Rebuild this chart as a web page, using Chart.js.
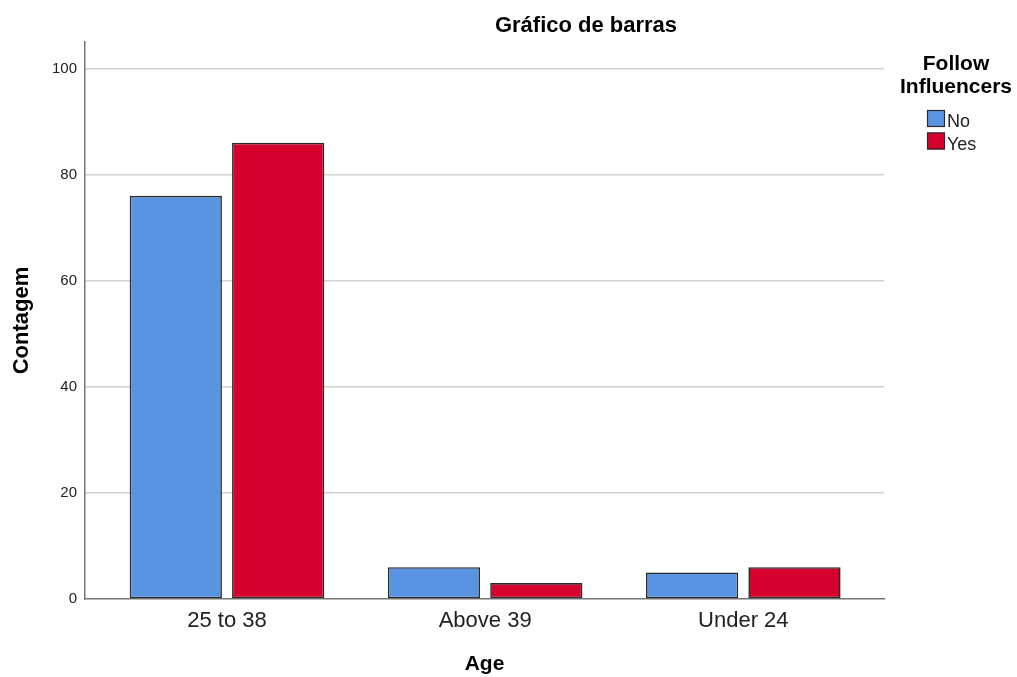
<!DOCTYPE html>
<html><head><meta charset="utf-8">
<script src="https://cdn.jsdelivr.net/npm/chart.js@4/dist/chart.umd.min.js"></script>
<style>html,body{margin:0;padding:0;background:#fff;overflow:hidden;} #wrap{width:1017px;height:677px;position:relative;}</style>
</head><body><div id="wrap"><canvas id="c" width="1017" height="677"></canvas></div>
<script>
const categories = ['25 to 38', 'Above 39', 'Under 24'];
const seriesNames = ['No', 'Yes'];
const noValues = [76, 6, 5];
const yesValues = [86, 3, 6];
const yTicks = [0, 20, 40, 60, 80, 100];
const chartTitle = 'Gráfico de barras';
const legendTitle = ['Follow', 'Influencers'];
const xTitle = 'Age';
const yTitle = 'Contagem';

const FONT = '"Liberation Sans", Arial, sans-serif';
const colors = ['#5894e2', '#d5002e'];

const overlay = {
  id: 'overlay',
  afterDraw(chart) {
    const ctx = chart.ctx;
    ctx.save();
    ctx.fillStyle = '#000';
    ctx.textAlign = 'center';
    ctx.textBaseline = 'alphabetic';
    ctx.font = 'bold 22px ' + FONT;
    ctx.fillText(chartTitle, 586, 32);
    ctx.font = 'bold 21px ' + FONT;
    ctx.fillText(legendTitle[0], 956, 70);
    ctx.fillText(legendTitle[1], 956, 93);
    ctx.textAlign = 'left';
    ctx.font = '18px ' + FONT;
    chart.data.datasets.forEach((ds, i) => {
      const y = 110 + i * 22.5;
      ctx.fillStyle = ds.backgroundColor;
      ctx.fillRect(927, y, 18, 17);
      ctx.strokeStyle = '#2b2b2b';
      ctx.lineWidth = 1.2;
      ctx.strokeRect(927.5, y + 0.5, 17, 16);
      ctx.fillStyle = '#222';
      ctx.fillText(ds.label, 947, y + 17.3);
    });
    ctx.restore();
  }
};

new Chart(document.getElementById('c'), {
  type: 'bar',
  data: {
    datasets: [
      { label: seriesNames[0], data: categories.map((c, i) => ({x: i, y: noValues[i]})), backgroundColor: colors[0] },
      { label: seriesNames[1], data: categories.map((c, i) => ({x: i, y: yesValues[i]})), backgroundColor: colors[1] }
    ]
  },
  options: {
    responsive: false,
    animation: false,
    devicePixelRatio: 1,
    layout: { padding: { top: 42, right: 133, left: 0, bottom: 0 } },
    datasets: {
      bar: { categoryPercentage: 0.793, barPercentage: 0.901, borderWidth: 1.6, borderColor: '#2a2a2a', borderSkipped: false }
    },
    plugins: { legend: { display: false }, title: { display: false }, tooltip: { enabled: false } },
    scales: {
      x: {
        type: 'linear',
        offset: false,
        min: -0.55,
        max: 2.545,
        afterBuildTicks: (s) => { s.ticks = categories.map((c, i) => ({ value: i })); },
        afterFit: (s) => { s.height = 78; },
        grid: { display: false, drawTicks: false, offset: false },
        border: { display: true, color: '#747474', width: 1.5 },
        ticks: {
          autoSkip: false, maxRotation: 0, padding: 9,
          color: '#222', font: { family: FONT, size: 22 },
          callback: (v) => categories[v]
        },
        title: { display: true, text: xTitle, color: '#000', font: { family: FONT, size: 21, weight: 'bold' }, padding: { top: 0, bottom: 0 } }
      },
      y: {
        min: 0,
        max: 105,
        afterBuildTicks: (s) => { s.ticks = yTicks.map(v => ({ value: v })); },
        afterFit: (s) => { s.width = 85; },
        grid: {
          drawTicks: false,
          lineWidth: 1.5,
          color: (c) => (c.tick && c.tick.value === 0) ? 'rgba(0,0,0,0)' : '#d0d0d0'
        },
        border: { display: true, color: '#747474', width: 1.5 },
        ticks: { padding: 8, color: '#222', font: { family: FONT, size: 15 } },
        title: { display: true, text: yTitle, color: '#000', font: { family: FONT, size: 22, weight: 'bold' }, padding: { top: 9, bottom: 0 } }
      }
    }
  },
  plugins: [overlay]
});
</script>
</body></html>
